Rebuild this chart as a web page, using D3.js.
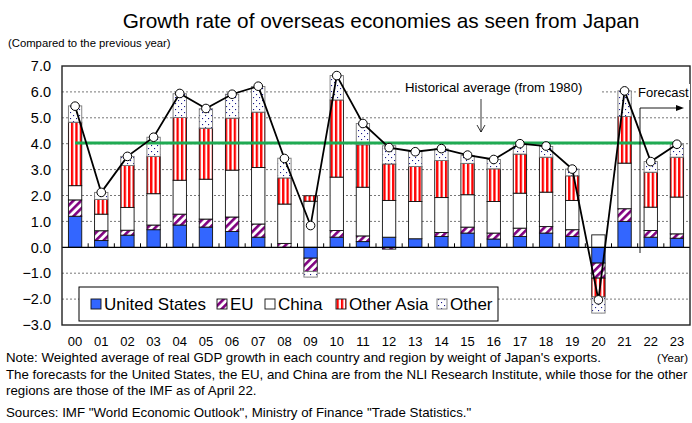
<!DOCTYPE html>
<html>
<head>
<meta charset="utf-8">
<script src="https://cdn.jsdelivr.net/npm/d3@7"></script>
<style>
  body { margin: 0; background: #fff; }
  text { font-family: "Liberation Sans", Arial, sans-serif; fill: #000; }
</style>
</head>
<body>
<svg id="svg" width="692" height="423"></svg>
<script>
// contributions to growth (percentage points)
var years = ["00","01","02","03","04","05","06","07","08","09","10","11","12","13","14","15","16","17","18","19","20","21","22","23"];
var us        = [1.20,0.26,0.47,0.68,0.86,0.78,0.61,0.39,0.00,-0.42,0.39,0.22,0.39,0.33,0.42,0.55,0.32,0.42,0.55,0.42,-0.61,1.00,0.39,0.35];
var eu        = [0.63,0.38,0.19,0.18,0.42,0.31,0.56,0.51,0.15,-0.51,0.26,0.22,-0.07,0.00,0.15,0.23,0.23,0.32,0.25,0.26,-0.58,0.49,0.26,0.17];
var china     = [0.55,0.64,0.88,1.21,1.31,1.54,1.81,2.18,1.52,1.78,2.06,1.88,1.42,1.44,1.35,1.25,1.22,1.35,1.33,1.13,0.48,1.76,0.90,1.42];
var otherAsia = [2.45,0.57,1.62,1.44,2.42,1.97,2.01,2.14,1.01,0.21,2.98,1.64,1.41,1.35,1.43,1.21,1.26,1.51,1.35,0.95,-0.73,1.80,1.35,1.54];
var other     = [0.63,0.27,0.35,0.74,0.92,0.75,0.92,0.99,0.76,-0.22,0.94,0.82,0.70,0.58,0.45,0.30,0.36,0.40,0.41,0.26,-0.62,0.99,0.41,0.48];
var total     = [5.45,2.12,3.51,4.25,5.94,5.36,5.91,6.22,3.43,0.84,6.63,4.78,3.85,3.69,3.81,3.56,3.39,4.00,3.91,3.02,-2.03,6.04,3.31,3.98];
var histAvg = 4.03;
var yTicks = [-3,-2,-1,0,1,2,3,4,5,6,7];

var keys = ["us","eu","china","otherAsia","other"];
var names = {us:"United States", eu:"EU", china:"China", otherAsia:"Other Asia", other:"Other"};

var rows = years.map(function(y,i){
  return {year:y, us:us[i], eu:eu[i], china:china[i], otherAsia:otherAsia[i], other:other[i], total:total[i]};
});

var svg = d3.select("#svg");
var pLeft = 62, pRight = 690, pTop = 66, pBottom = 325;

var x = d3.scaleBand().domain(years).range([pLeft,pRight]).paddingInner(0.49).paddingOuter(0.245);
var y = d3.scaleLinear().domain([-3,7]).range([pBottom,pTop]);

// patterns
var defs = svg.append("defs");
var pEU = defs.append("pattern").attr("id","pEU").attr("patternUnits","userSpaceOnUse")
  .attr("width",5.5).attr("height",5.5).attr("patternTransform","rotate(45)");
pEU.append("rect").attr("width",5.5).attr("height",5.5).attr("fill","#fff");
pEU.append("rect").attr("width",2.6).attr("height",5.5).attr("fill","#800080");

var pOA = defs.append("pattern").attr("id","pOA").attr("patternUnits","userSpaceOnUse")
  .attr("width",4.4).attr("height",4).attr("x",0.5);
pOA.append("rect").attr("width",4.4).attr("height",4).attr("fill","#fff");
pOA.append("rect").attr("width",2.3).attr("height",4).attr("fill","#ff0000");

var pOT = defs.append("pattern").attr("id","pOT").attr("patternUnits","userSpaceOnUse")
  .attr("width",6).attr("height",6);
pOT.append("rect").attr("width",6).attr("height",6).attr("fill","#fff");
pOT.append("rect").attr("x",1).attr("y",1).attr("width",1.1).attr("height",1.1).attr("fill","#1a1a8c");
pOT.append("rect").attr("x",4).attr("y",4).attr("width",1.1).attr("height",1.1).attr("fill","#1a1a8c");

var fills = {us:"#3366ff", eu:"url(#pEU)", china:"#fff", otherAsia:"url(#pOA)", other:"url(#pOT)"};
var strokes = {us:"#111", eu:"#111", china:"#111", otherAsia:"#111", other:"#777"};

// title
svg.append("text").attr("x",381).attr("y",28).attr("text-anchor","middle")
  .style("font-size","20.8px").text("Growth rate of overseas economies as seen from Japan");
svg.append("text").attr("x",8).attr("y",47).style("font-size","11.3px")
  .text("(Compared to the previous year)");

// grid
svg.append("g").selectAll("line").data(yTicks.filter(function(t){return t>-3 && t<7 && t!==0;}))
  .enter().append("line")
  .attr("x1",pLeft).attr("x2",pRight).attr("y1",function(d){return y(d);}).attr("y2",function(d){return y(d);})
  .attr("stroke","#777").attr("stroke-width",1).attr("stroke-dasharray","2,2");

// y labels
svg.append("g").selectAll("text").data(yTicks).enter().append("text")
  .attr("x",51).attr("y",function(d){return y(d);}).attr("dy","0.36em")
  .attr("text-anchor","end").style("font-size","14.5px")
  .text(function(d){return d3.format(".1f")(d);});

// bars
var series = d3.stack().keys(keys).offset(d3.stackOffsetDiverging)(rows);
svg.append("g").selectAll("g").data(series).enter().append("g")
  .attr("fill",function(s){return fills[s.key];})
  .attr("stroke",function(s){return strokes[s.key];})
  .attr("stroke-width",0.9)
  .selectAll("rect").data(function(s){return s.filter(function(d){return d[1]!==d[0];});})
  .enter().append("rect")
  .attr("x",function(d){return x(d.data.year);})
  .attr("width",x.bandwidth())
  .attr("y",function(d){return y(Math.max(d[0],d[1]));})
  .attr("height",function(d){return Math.abs(y(d[0])-y(d[1]));});

// zero line and small ticks
svg.append("line").attr("x1",pLeft).attr("x2",pRight).attr("y1",y(0)).attr("y2",y(0))
  .attr("stroke","#000").attr("stroke-width",1.3);
var step = x.step();
svg.append("g").selectAll("line").data(years.slice(0,-1)).enter().append("line")
  .attr("x1",function(d){return x(d)+x.bandwidth()/2+step/2;})
  .attr("x2",function(d){return x(d)+x.bandwidth()/2+step/2;})
  .attr("y1",y(0)).attr("y2",y(0)-4).attr("stroke","#000").attr("stroke-width",1);

// frame
svg.append("rect").attr("x",pLeft).attr("y",pTop).attr("width",pRight-pLeft).attr("height",pBottom-pTop)
  .attr("fill","none").attr("stroke","#222").attr("stroke-width",1.4);

// historical average
svg.append("line")
  .attr("x1",x(years[0])+x.bandwidth()/2).attr("x2",x(years[years.length-1])+x.bandwidth()/2)
  .attr("y1",y(histAvg)).attr("y2",y(histAvg))
  .attr("stroke","#1faa52").attr("stroke-width",3);

// total line
var cx = function(d){return x(d.year)+x.bandwidth()/2;};
svg.append("path").datum(rows)
  .attr("d",d3.line().x(cx).y(function(d){return y(d.total);}))
  .attr("fill","none").attr("stroke","#000").attr("stroke-width",1.8);
svg.append("g").selectAll("circle").data(rows).enter().append("circle")
  .attr("cx",cx).attr("cy",function(d){return y(d.total);}).attr("r",4.3)
  .attr("fill","#fff").attr("stroke","#000").attr("stroke-width",1);

// x labels
svg.append("g").selectAll("text").data(years).enter().append("text")
  .attr("x",function(d){return x(d)+x.bandwidth()/2;}).attr("y",346)
  .attr("text-anchor","middle").style("font-size","13px").text(function(d){return d;});

// annotation: historical average
svg.append("rect").attr("x",401).attr("y",79).attr("width",199).attr("height",17).attr("fill","#fff");
svg.append("text").attr("x",405).attr("y",92).style("font-size","13.2px").text("Historical average (from 1980)");
svg.append("line").attr("x1",481).attr("x2",481).attr("y1",99).attr("y2",132).attr("stroke","#000").attr("stroke-width",0.8);
svg.append("path").attr("d","M477,125 L481,132 L485,125").attr("fill","none").attr("stroke","#000").attr("stroke-width",0.8);

// annotation: forecast
svg.append("rect").attr("x",636).attr("y",84).attr("width",54).attr("height",16).attr("fill","#fff");
svg.append("text").attr("x",638).attr("y",97).style("font-size","13px").text("Forecast");
svg.append("path").attr("d","M640,253 L640,108 L678,108").attr("fill","none").attr("stroke","#000").attr("stroke-width",0.9);
svg.append("path").attr("d","M676,105 L684,108 L676,111 Z").attr("fill","#000");

// legend
svg.append("rect").attr("x",79).attr("y",287).attr("width",419).attr("height",34)
  .attr("fill","#fff").attr("stroke","#000").attr("stroke-width",1);
var legX = [91,217,265,336,437];
var leg = svg.append("g").selectAll("g").data(keys).enter().append("g")
  .attr("transform",function(d,i){return "translate("+legX[i]+",304)";});
leg.append("rect").attr("x",0).attr("y",-5).attr("width",10).attr("height",10)
  .attr("fill",function(d){return fills[d];}).attr("stroke",function(d){return strokes[d];}).attr("stroke-width",0.9);
leg.append("text").attr("x",13).attr("y",0).attr("dy","0.36em").style("font-size","17px")
  .text(function(d){return names[d];});

// notes
svg.append("text").attr("x",688).attr("y",362).attr("text-anchor","end").style("font-size","11.5px").text("(Year)");
var notes = [
  ["Note: Weighted average of real GDP growth in each country and region by weight of Japan's exports.", 362],
  ["The forecasts for the United States, the EU, and China are from the NLI Research Institute, while those for the other", 379],
  ["regions are those of the IMF as of April 22.", 395],
  ["Sources: IMF \"World Economic Outlook\", Ministry of Finance \"Trade Statistics.\"", 417]
];
svg.append("g").selectAll("text").data(notes).enter().append("text")
  .attr("x",6).attr("y",function(d){return d[1];}).style("font-size","13.3px").text(function(d){return d[0];});
</script>
</body>
</html>
